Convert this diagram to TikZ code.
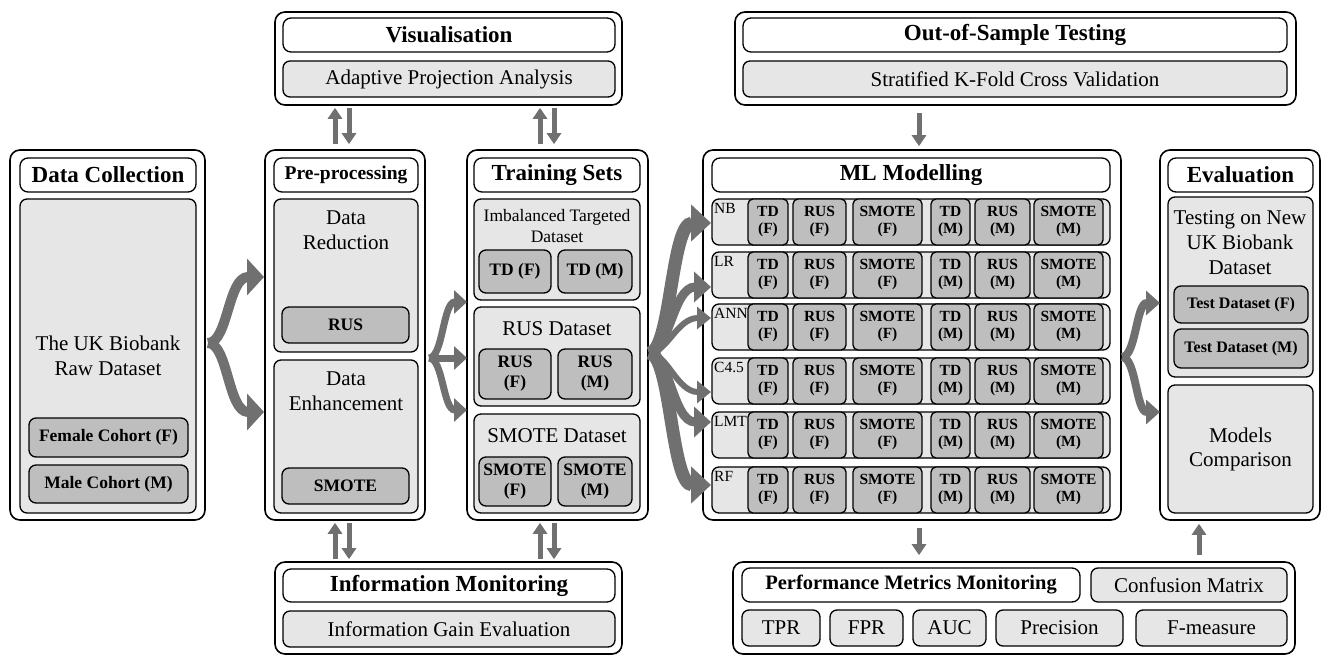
\documentclass[tikz,border=0pt]{standalone}
\usepackage{fontspec}
\setmainfont{Liberation Serif}
\usetikzlibrary{arrows.meta,calc}
\definecolor{lgray}{HTML}{E6E6E6}
\definecolor{dgray}{HTML}{BEBEBE}
\definecolor{agray}{HTML}{707070}
\newcommand{\bx}[7]{\node[#1, minimum width={(#5-#3)*1pt}, minimum height={(#6-#4)*1pt}] (#2) at ({(#3+#5)/2},{(#4+#6)/2}) {#7};}
\newcommand{\barrow}[5]{\draw[#1] (#2) .. controls ($(#2)+(#4,0)$) and ($(#3)+(-#5,0)$) .. (#3);}
\tikzset{
  outerbox/.style={draw, line width=1.6pt, rounded corners=10pt, fill=white, inner sep=0pt},
  titlebox/.style={draw, line width=1.3pt, rounded corners=8pt, fill=white, inner sep=0pt, font=\fontsize{23}{26}\selectfont\bfseries},
  ptitlebox/.style={titlebox, font=\fontsize{19.5}{22}\selectfont\bfseries},
  perftitle/.style={titlebox, font=\fontsize{20.5}{23}\selectfont\bfseries},
  litebox/.style={draw, line width=1.3pt, rounded corners=7pt, fill=lgray, inner sep=0pt, font=\fontsize{21}{24}\selectfont, align=center},
  darkbox/.style={draw, line width=1.3pt, rounded corners=7pt, fill=dgray, inner sep=0pt, font=\fontsize{17.5}{20}\selectfont\bfseries, align=center},
  testbox/.style={darkbox, font=\fontsize{16}{18}\selectfont\bfseries},
  cellbox/.style={darkbox, font=\fontsize{15.5}{17}\selectfont\bfseries, rounded corners=5pt},
  bodytext/.style={inner sep=0pt, font=\fontsize{21}{25}\selectfont, align=center},
  smalltext/.style={inner sep=0pt, font=\fontsize{17.5}{21}\selectfont, align=center},
  rowlab/.style={inner sep=0pt, font=\fontsize{15.5}{17}\selectfont, anchor=north west},
  varrow/.style={draw=agray, line width=5pt, -{Triangle[length=11pt,width=14pt]}},
}
\begin{document}
\begin{tikzpicture}[x=1pt,y=-1pt]
\useasboundingbox (0,0) rectangle (1322,655);

% ---------- Data Collection
\bx{outerbox}{dc}{10}{150}{205}{520}{}
\bx{titlebox}{dct}{20}{158}{196}{192}{Data Collection}
\bx{litebox}{dcb}{20}{199}{196}{513}{}
\node[bodytext] (dctext) at (108,356) {The UK Biobank\\Raw Dataset};
\bx{darkbox}{fc}{29}{418}{188}{457}{Female Cohort (F)}
\bx{darkbox}{mc}{29}{465}{188}{503}{Male Cohort (M)}

% ---------- Pre-processing
\bx{outerbox}{pp}{265}{150}{425}{520}{}
\bx{ptitlebox}{ppt}{274}{158}{418}{192}{Pre-processing}
\bx{litebox}{dr}{274}{199}{418}{352}{}
\node[bodytext] (drtext) at (346,230) {Data\\Reduction};
\bx{darkbox}{rus}{282}{307}{409}{343}{RUS}
\bx{litebox}{de}{274}{360}{418}{513}{}
\node[bodytext] (detext) at (346,391) {Data\\Enhancement};
\bx{darkbox}{smote}{282}{468}{409}{504}{SMOTE}

% ---------- Training Sets
\bx{outerbox}{ts}{467}{150}{648}{520}{}
\bx{titlebox}{tst}{474}{158}{640}{192}{Training Sets}
\bx{litebox}{itd}{474}{199}{640}{300}{}
\node[smalltext] (itdtext) at (557,226) {Imbalanced Targeted\\Dataset};
\bx{darkbox}{tdf}{479}{250}{551}{293}{TD (F)}
\bx{darkbox}{tdm}{558}{250}{632}{293}{TD (M)}
\bx{litebox}{rusd}{474}{307}{640}{406}{}
\node[bodytext] (rusdtext) at (557,329) {RUS Dataset};
\bx{darkbox}{rusf}{479}{349}{551}{399}{RUS\\(F)}
\bx{darkbox}{rusm}{558}{349}{632}{399}{RUS\\(M)}
\bx{litebox}{smd}{474}{414}{640}{513}{}
\node[bodytext] (smdtext) at (557,436) {SMOTE Dataset};
\bx{darkbox}{smf}{479}{457}{551}{506}{SMOTE\\(F)}
\bx{darkbox}{smm}{558}{457}{632}{506}{SMOTE\\(M)}

% ---------- ML Modelling
\bx{outerbox}{ml}{703}{150}{1121}{520}{}
\bx{titlebox}{mlt}{712}{158}{1110}{192}{ML Modelling}
\foreach \r/\lab/\tp in {1/NB/199,2/LR/252,3/ANN/304,4/C4.5/358,5/LMT/412,6/RF/467}{
  \bx{litebox}{row\r}{712}{\tp}{1110}{\tp+46}{}
  \node[rowlab] (lab\r) at (714,\tp+4) {\lab};
  \foreach \c/\a/\b/\t in {1/748/788/{TD\\(F)},2/793/846/{RUS\\(F)},3/853/922/{SMOTE\\(F)},4/931/970/{TD\\(M)},5/975/1030/{RUS\\(M)},6/1034/1103/{SMOTE\\(M)}}{
    \bx{cellbox}{cell\r\c}{\a}{\tp+4}{\b}{\tp+42}{\t}
  }
}

% ---------- Evaluation
\bx{outerbox}{ev}{1160}{150}{1320}{520}{}
\bx{titlebox}{evt}{1168}{158}{1313}{192}{Evaluation}
\bx{litebox}{tnew}{1168}{197}{1313}{377}{}
\node[bodytext] (tnewtext) at (1240,243) {Testing on New\\UK Biobank\\Dataset};
\bx{testbox}{tdsf}{1174}{286}{1308}{323}{Test Dataset (F)}
\bx{testbox}{tdsm}{1174}{329}{1308}{368}{Test Dataset (M)}
\bx{litebox}{mcmp}{1168}{385}{1313}{513}{Models\\Comparison}

% ---------- Visualisation
\bx{outerbox}{vis}{275}{12}{622}{105}{}
\bx{titlebox}{vist}{283}{18}{615}{52}{Visualisation}
\bx{litebox}{apa}{283}{61}{615}{97}{Adaptive Projection Analysis}

% ---------- Out-of-Sample
\bx{outerbox}{oos}{735}{12}{1296}{105}{}
\bx{titlebox}{oost}{743}{18}{1287}{52}{Out-of-Sample Testing}
\bx{litebox}{skf}{743}{61}{1287}{97}{Stratified K-Fold Cross Validation}

% ---------- Information Monitoring
\bx{outerbox}{im}{275}{562}{622}{654}{}
\bx{titlebox}{imt}{283}{569}{615}{602}{Information Monitoring}
\bx{litebox}{ige}{283}{611}{615}{647}{Information Gain Evaluation}

% ---------- Performance Metrics
\bx{outerbox}{pm}{733}{562}{1295}{654}{}
\bx{perftitle}{pmt}{742}{568}{1080}{602}{Performance Metrics Monitoring}
\bx{litebox}{conf}{1091}{568}{1287}{602}{Confusion Matrix}
\bx{litebox}{tpr}{742}{610}{820}{646}{TPR}
\bx{litebox}{fpr}{830}{610}{903}{646}{FPR}
\bx{litebox}{auc}{913}{610}{986}{646}{AUC}
\bx{litebox}{prec}{996}{610}{1123}{646}{Precision}
\bx{litebox}{fmeas}{1136}{610}{1287}{646}{F-measure}

% ---------- vertical arrows
\coordinate (xa) at (335,0);
\coordinate (xb) at (349,0);
\coordinate (xc) at (540,0);
\coordinate (xd) at (554,0);
\coordinate (xe) at (919,0);
\coordinate (xf) at (1199,0);
\draw[varrow, shorten <=5pt, shorten >=2pt] (pp.north -| xa) -- (vis.south -| xa);
\draw[varrow, shorten <=2pt, shorten >=5pt] (vis.south -| xb) -- (pp.north -| xb);
\draw[varrow, shorten <=5pt, shorten >=2pt] (ts.north -| xc) -- (vis.south -| xc);
\draw[varrow, shorten <=2pt, shorten >=5pt] (vis.south -| xd) -- (ts.north -| xd);
\draw[varrow, shorten <=2pt, shorten >=2pt] (im.north -| xa) -- (pp.south -| xa);
\draw[varrow, shorten <=2pt, shorten >=2pt] (pp.south -| xb) -- (im.north -| xb);
\draw[varrow, shorten <=2pt, shorten >=2pt] (im.north -| xc) -- (ts.south -| xc);
\draw[varrow, shorten <=2pt, shorten >=2pt] (ts.south -| xd) -- (im.north -| xd);
\draw[varrow, shorten <=7pt, shorten >=3pt] (oos.south -| xe) -- (ml.north -| xe);
\draw[varrow, shorten <=7pt, shorten >=6pt] (ml.south -| xe) -- (pm.north -| xe);
\draw[varrow, shorten <=6pt, shorten >=3pt] (pm.north -| xf) -- (ev.south -| xf);

% ---------- brace arrows
\coordinate (c1) at (208,343);
\coordinate (p1) at (264,277);
\coordinate (p2) at (264,412);
\barrow{agray, line width=10pt, -{Triangle[length=17pt,width=36pt]}}{c1}{p1}{20}{36}
\barrow{agray, line width=10pt, -{Triangle[length=17pt,width=36pt]}}{c1}{p2}{20}{36}

\coordinate (c2) at (429,358);
\coordinate (q1) at (467,302);
\coordinate (q2) at (467,358);
\coordinate (q3) at (467,410);
\barrow{agray, line width=7pt, -{Triangle[length=13pt,width=23pt]}}{c2}{q1}{14}{24}
\barrow{agray, line width=7pt, -{Triangle[length=13pt,width=23pt]}}{c2}{q3}{14}{24}
\draw[agray, line width=7pt, -{Triangle[length=13pt,width=23pt]}] (c2) -- (q2);

\coordinate (c3) at (649,353);
\coordinate (m1) at (711,223);
\coordinate (m2) at (711,287);
\coordinate (m3) at (711,318);
\coordinate (m4) at (711,392);
\coordinate (m5) at (711,422);
\coordinate (m6) at (711,485);
\barrow{agray, line width=13pt, -{Triangle[length=20pt,width=36pt]}}{c3}{m1}{22}{40}
\barrow{agray, line width=13pt, -{Triangle[length=20pt,width=36pt]}}{c3}{m6}{22}{40}
\barrow{agray, line width=9pt, -{Triangle[length=17pt,width=30pt]}}{c3}{m2}{20}{38}
\barrow{agray, line width=9pt, -{Triangle[length=17pt,width=30pt]}}{c3}{m5}{20}{38}
\barrow{agray, line width=6pt, -{Triangle[length=14pt,width=22pt]}}{c3}{m3}{18}{34}
\barrow{agray, line width=6pt, -{Triangle[length=14pt,width=22pt]}}{c3}{m4}{18}{34}

\coordinate (c4) at (1122,357);
\coordinate (e1) at (1160,303);
\coordinate (e2) at (1160,412);
\barrow{agray, line width=8pt, -{Triangle[length=14pt,width=24pt]}}{c4}{e1}{14}{24}
\barrow{agray, line width=8pt, -{Triangle[length=14pt,width=24pt]}}{c4}{e2}{14}{24}
\end{tikzpicture}
\end{document}
